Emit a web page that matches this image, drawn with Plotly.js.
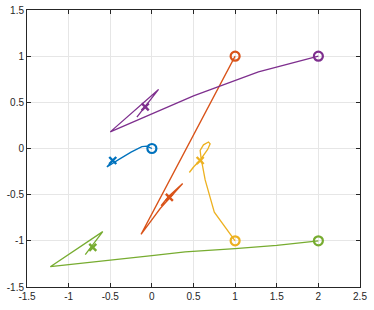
<!DOCTYPE html>
<html><head><meta charset="utf-8">
<script src="https://cdn.plot.ly/plotly-3.0.1.min.js"></script>
<style>body{margin:0;background:#fff}#c{width:374px;height:310px}</style>
</head><body><div id="c"></div>
<script>
const blueX = [0, -0.06, -0.12, -0.25, -0.4, -0.54, -0.47];
const blueY = [0, 0.025, 0.02, -0.04, -0.12, -0.2, -0.13];
const blueStart = [0, 0], blueEnd = [-0.47, -0.13];

const orangeX = [1, 0.5, 0.1, -0.13, 0.1, 0.37, 0.2, 0.11];
const orangeY = [1, 0.14, -0.55, -0.93, -0.65, -0.38, -0.52, -0.62];
const orangeStart = [1, 1], orangeEnd = [0.21, -0.53];

const yellowX = [1, 0.75, 0.64, 0.6, 0.59, 0.58, 0.62, 0.68, 0.7, 0.67, 0.62, 0.57, 0.5, 0.45, 0.52, 0.58];
const yellowY = [-1, -0.69, -0.34, -0.17, -0.1, -0.02, 0.04, 0.07, 0.05, -0.01, -0.08, -0.14, -0.2, -0.26, -0.18, -0.13];
const yellowStart = [1, -1], yellowEnd = [0.58, -0.13];

const purpleX = [2, 1.28, 0.5, -0.5, 0.08, -0.18];
const purpleY = [1, 0.83, 0.57, 0.18, 0.64, 0.34];
const purpleStart = [2, 1], purpleEnd = [-0.08, 0.45];

const greenX = [2, 1.5, 1, 0.4, 0, -1.22, -0.59, -0.8];
const greenY = [-1, -1.05, -1.085, -1.12, -1.16, -1.28, -0.9, -1.15];
const greenStart = [2, -1], greenEnd = [-0.71, -1.07];

const xTicks = [-1.5, -1, -0.5, 0, 0.5, 1, 1.5, 2, 2.5];
const xTickText = ['-1.5', '-1', '-0.5', '0', '0.5', '1', '1.5', '2', '2.5'];
const yTicks = [-1.5, -1, -0.5, 0, 0.5, 1, 1.5];
const yTickText = ['-1.5', '-1', '-0.5', '0', '0.5', '1', '1.5'];

const series = [
  {x: blueX, y: blueY, s: blueStart, e: blueEnd, c: '#0072BD'},
  {x: orangeX, y: orangeY, s: orangeStart, e: orangeEnd, c: '#D95319'},
  {x: yellowX, y: yellowY, s: yellowStart, e: yellowEnd, c: '#EDB120'},
  {x: purpleX, y: purpleY, s: purpleStart, e: purpleEnd, c: '#7E2F8E'},
  {x: greenX, y: greenY, s: greenStart, e: greenEnd, c: '#77AC30'}
];
const traces = [];
series.forEach(d => {
  traces.push({x: d.x, y: d.y, mode: 'lines', line: {color: d.c, width: 1.3}, hoverinfo: 'skip'});
  traces.push({x: [d.s[0]], y: [d.s[1]], mode: 'markers',
    marker: {symbol: 'circle-open', size: 9, color: d.c, line: {width: 2.2, color: d.c}}});
  traces.push({x: [d.e[0]], y: [d.e[1]], mode: 'markers',
    marker: {symbol: 'x-thin-open', size: 7, color: d.c, line: {width: 2.4, color: d.c}}});
});
const axBase = {
  showline: true, linecolor: '#262626', linewidth: 1, mirror: 'ticks',
  ticks: 'inside', ticklen: 4, tickcolor: '#262626', tickwidth: 1,
  showgrid: true, gridcolor: '#e6e6e6', gridwidth: 1, zeroline: false,
  tickfont: {family: 'Liberation Sans, Arial, sans-serif', size: 10, color: '#262626'},
  tickmode: 'array'
};
const layout = {
  width: 374, height: 310,
  margin: {l: 27, r: 14, t: 10, b: 23},
  showlegend: false,
  paper_bgcolor: '#fff', plot_bgcolor: '#fff',
  xaxis: Object.assign({}, axBase, {range: [-1.5, 2.5], tickvals: xTicks, ticktext: xTickText}),
  yaxis: Object.assign({}, axBase, {range: [-1.5, 1.5], tickvals: yTicks, ticktext: yTickText})
};
Plotly.newPlot('c', traces, layout, {staticPlot: true});
</script>
</body></html>
